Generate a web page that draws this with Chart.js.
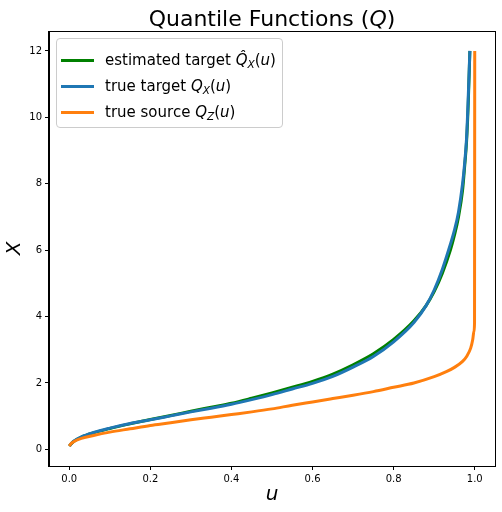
<!DOCTYPE html>
<html>
<head>
<meta charset="utf-8">
<script src="https://cdn.jsdelivr.net/npm/chart.js@4.4.0/dist/chart.umd.min.js"></script>
<style>
  body { margin: 0; background: #fff; }
  #wrap { position: relative; width: 502px; height: 512px; font-family: 'DejaVu Sans', sans-serif; color: #000; }
  #titolo { position: absolute; left: 49px; width: 446px; top: 6px; text-align: center; font-size: 22px; line-height: normal; white-space: nowrap; }
  #legenda { position: absolute; left: 56px; top: 38px; width: 225px; height: 88px; border: 1px solid #cccccc; border-radius: 4px; background: rgba(255,255,255,0.8); font-size: 15px; }
  .riga { position: absolute; left: 0; height: 26px; line-height: 26px; white-space: nowrap; }
  .linea { display: inline-block; width: 33px; height: 3px; margin-left: 4px; margin-right: 11px; vertical-align: middle; }
  .sub { font-size: 0.7em; position: relative; top: 0.3em; }
  i { font-style: italic; }
</style>
</head>
<body>
<div id="wrap">
  <canvas id="grafico" width="502" height="512"></canvas>
  <div id="titolo">Quantile Functions (<i>Q</i>)</div>
  <div id="legenda"></div>
</div>
<script>
// valori
var uTarget = [0, 0.01, 0.03, 0.06, 0.1, 0.15, 0.2, 0.25, 0.3, 0.35, 0.4, 0.45, 0.5, 0.55, 0.6, 0.65, 0.7, 0.75, 0.8, 0.85, 0.88, 0.9, 0.92, 0.94, 0.95, 0.96, 0.97, 0.975, 0.98, 0.984, 0.988];
var estimatedTarget = [0.10, 0.23, 0.37, 0.50, 0.63, 0.77, 0.90, 1.02, 1.15, 1.27, 1.39, 1.54, 1.70, 1.87, 2.05, 2.27, 2.55, 2.88, 3.31, 3.87, 4.33, 4.75, 5.30, 6.00, 6.45, 7.00, 7.80, 8.50, 9.30, 10.40, 12.00];
var trueTarget = [0.10, 0.24, 0.38, 0.51, 0.64, 0.78, 0.89, 1.01, 1.13, 1.24, 1.36, 1.50, 1.65, 1.82, 1.99, 2.20, 2.48, 2.80, 3.24, 3.82, 4.33, 4.80, 5.42, 6.18, 6.60, 7.15, 8.00, 8.60, 9.40, 10.60, 12.00];
var uSource = [0, 0.005, 0.015, 0.03, 0.06, 0.1, 0.15, 0.2, 0.25, 0.3, 0.35, 0.4, 0.45, 0.5, 0.55, 0.6, 0.65, 0.7, 0.75, 0.8, 0.85, 0.9, 0.93, 0.95, 0.97, 0.98, 0.99, 0.995, 0.998, 0.9995, 1.0];
var trueSource = [0.10, 0.18, 0.26, 0.33, 0.42, 0.52, 0.62, 0.72, 0.80, 0.89, 0.97, 1.05, 1.13, 1.22, 1.33, 1.43, 1.53, 1.63, 1.74, 1.87, 2.00, 2.19, 2.34, 2.47, 2.65, 2.80, 3.05, 3.30, 3.55, 3.80, 12.00];
var xTicks = [0, 0.2, 0.4, 0.6, 0.8, 1.0];
var yTicks = [0, 2, 4, 6, 8, 10, 12];

var etichette = [
    'estimated target <i>Q&#770;</i><i class="sub">X</i>(<i>u</i>)',
    'true target <i>Q</i><i class="sub">X</i>(<i>u</i>)',
    'true source <i>Q</i><i class="sub">Z</i>(<i>u</i>)'
];
var colori = ['#008000', '#1f77b4', '#ff7f0e'];

function punti(xs, ys) {
    var out = [];
    for (var i = 0; i < xs.length; i++) {
        out.push({x: xs[i], y: ys[i]});
    }
    return out;
}

// legenda fatta a mano (serve il testo con pedici)
var legenda = document.getElementById('legenda');
for (var i = 0; i < etichette.length; i++) {
    var riga = document.createElement('div');
    riga.className = 'riga';
    riga.style.top = (8 + 26 * i) + 'px';
    riga.innerHTML = '<span class="linea" style="background:' + colori[i] + '"></span>' + etichette[i];
    legenda.appendChild(riga);
}

// bordo su tutti e quattro i lati
var cornice = {
    id: 'cornice',
    afterDraw: function(chart) {
        var a = chart.chartArea;
        var ctx = chart.ctx;
        ctx.save();
        ctx.strokeStyle = '#000';
        ctx.lineWidth = 1;
        ctx.strokeRect(Math.round(a.left) - 0.5, Math.round(a.top) + 0.5, Math.round(a.right - a.left) + 1, Math.round(a.bottom - a.top));
        ctx.restore();
    }
};

var ctx = document.getElementById('grafico').getContext('2d');
var grafico = new Chart(ctx, {
    type: 'line',
    data: {
        datasets: [{
            label: 'estimated target',
            data: punti(uTarget, estimatedTarget),
            borderColor: colori[0],
            order: 2
        }, {
            label: 'true target',
            data: punti(uTarget, trueTarget),
            borderColor: colori[1],
            order: 1
        }, {
            label: 'true source',
            data: punti(uSource, trueSource),
            borderColor: colori[2],
            order: 0
        }]
    },
    options: {
        responsive: false,
        animation: false,
        devicePixelRatio: 1,
        layout: { padding: { left: 0, top: 31, right: 7, bottom: 0 } },
        elements: {
            point: { radius: 0 },
            line: { borderWidth: 3, fill: false, cubicInterpolationMode: 'monotone' }
        },
        plugins: {
            legend: { display: false },
            title: { display: false },
            tooltip: { enabled: false }
        },
        scales: {
            x: {
                type: 'linear',
                min: -0.05,
                max: 1.05,
                afterFit: function(scale) { scale.height = 46; },
                afterBuildTicks: function(scale) {
                    scale.ticks = xTicks.map(function(v) { return {value: v}; });
                },
                ticks: {
                    padding: 3,
                    color: '#000',
                    font: { family: 'DejaVu Sans', size: 10 },
                    callback: function(v) { return v.toFixed(1); }
                },
                grid: { drawOnChartArea: false, tickLength: 4, color: '#000' },
                border: { color: '#000', width: 1 },
                title: {
                    display: true,
                    text: 'u',
                    color: '#000',
                    font: { family: 'DejaVu Sans', size: 20, style: 'italic' },
                    padding: { top: 0, bottom: 5 }
                }
            },
            y: {
                type: 'linear',
                min: -0.5,
                max: 12.6,
                afterFit: function(scale) { scale.width = 49; },
                afterBuildTicks: function(scale) {
                    scale.ticks = yTicks.map(function(v) { return {value: v}; });
                },
                ticks: {
                    padding: 3,
                    color: '#000',
                    font: { family: 'DejaVu Sans', size: 10 }
                },
                grid: { drawOnChartArea: false, tickLength: 4, color: '#000' },
                border: { color: '#000', width: 1 },
                title: {
                    display: true,
                    text: 'X',
                    color: '#000',
                    font: { family: 'DejaVu Sans', size: 20, style: 'italic' },
                    padding: { top: 3, bottom: 0 }
                }
            }
        }
    },
    plugins: [cornice]
});
</script>
</body>
</html>
